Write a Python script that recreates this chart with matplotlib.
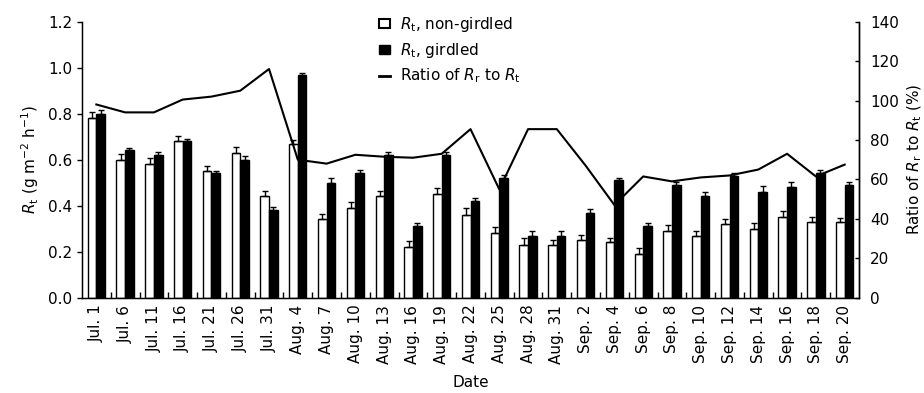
import matplotlib
matplotlib.use("Agg")
import matplotlib.pyplot as plt
import numpy as np
from matplotlib.lines import Line2D
from matplotlib.patches import Patch

plt.rcParams['font.family'] = ['DejaVu Sans']
plt.rcParams['mathtext.fontset'] = 'dejavusans'

dates = ["Jul. 1", "Jul. 6", "Jul. 11", "Jul. 16", "Jul. 21", "Jul. 26", "Jul. 31",
         "Aug. 4", "Aug. 7", "Aug. 10", "Aug. 13", "Aug. 16", "Aug. 19", "Aug. 22",
         "Aug. 25", "Aug. 28", "Aug. 31",
         "Sep. 2", "Sep. 4", "Sep. 6", "Sep. 8", "Sep. 10", "Sep. 12", "Sep. 14",
         "Sep. 16", "Sep. 18", "Sep. 20"]

rt_non_girdled = [0.78, 0.60, 0.58, 0.68, 0.55, 0.63, 0.44,
                  0.67, 0.34, 0.39, 0.44, 0.22, 0.45, 0.36, 0.28, 0.23, 0.23,
                  0.25, 0.24, 0.19, 0.29, 0.27, 0.32, 0.30, 0.35, 0.33, 0.33]
err_non_girdled = [0.026, 0.026, 0.026, 0.025, 0.022, 0.026, 0.025,
                   0.017, 0.022, 0.025, 0.026, 0.026, 0.028, 0.030, 0.028, 0.029, 0.020,
                   0.022, 0.019, 0.026, 0.025, 0.022, 0.022, 0.026, 0.029, 0.023, 0.016]

rt_girdled = [0.80, 0.64, 0.62, 0.68, 0.54, 0.60, 0.38,
              0.97, 0.50, 0.54, 0.62, 0.31, 0.62, 0.42, 0.52, 0.27, 0.27,
              0.37, 0.51, 0.31, 0.49, 0.44, 0.53, 0.46, 0.48, 0.54, 0.49]
err_girdled = [0.014, 0.012, 0.014, 0.012, 0.012, 0.016, 0.014,
               0.005, 0.019, 0.014, 0.012, 0.014, 0.012, 0.012, 0.012, 0.020, 0.022,
               0.014, 0.010, 0.014, 0.012, 0.019, 0.014, 0.025, 0.022, 0.014, 0.013]

ratio_pct = [98, 94, 94, 100.5, 102, 105, 116,
             70, 68, 72.5, 71.5, 71, 73, 85.5, 55, 85.5, 85.5,
             67, 47, 61.5, 59, 61, 62, 65, 73, 61.5, 67.5]

x = np.arange(len(dates))
w = 0.3
FS = 11

fig = plt.figure(figsize=(9.24, 3.93), dpi=100)
ax = fig.add_axes([0.0887, 0.2425, 0.8410, 0.7023])

ax.bar(x - w / 2, rt_non_girdled, width=w, color='white', edgecolor='black', linewidth=1.0, zorder=2)
ax.bar(x + w / 2, rt_girdled, width=w, color='black', edgecolor='black', linewidth=1.0, zorder=2)
zeros = np.zeros(len(x))
ax.errorbar(x - w / 2, rt_non_girdled, yerr=[zeros, err_non_girdled], fmt='none',
            ecolor='black', elinewidth=1.0, capsize=2.5, capthick=1.0, zorder=3)
ax.errorbar(x + w / 2, rt_girdled, yerr=[zeros, err_girdled], fmt='none',
            ecolor='black', elinewidth=1.0, capsize=2.5, capthick=1.0, zorder=3)

ax.set_xlim(-0.5, len(x) - 0.5)
ax.set_ylim(0, 1.2)
yt = np.arange(0, 1.21, 0.2)
ax.set_yticks(yt)
ax.set_yticklabels([f"{v:.1f}" for v in yt])
ax.set_xticks(x)
ax.set_xticklabels(dates, rotation=90, fontsize=FS)
ax.set_xticks(np.arange(0.5, len(x) - 1, 1.0), minor=True)
ax.tick_params(axis='x', which='major', length=0, pad=5)
ax.tick_params(axis='x', which='minor', direction='in', length=4, width=1)
ax.tick_params(axis='y', direction='out', length=3.6, width=1, pad=3.5, labelsize=FS)
ax.spines['top'].set_visible(False)
for s in ['left', 'bottom', 'right']:
    ax.spines[s].set_linewidth(1.0)
ax.set_xlabel("Date", fontsize=FS, labelpad=8)
ax.set_ylabel(r"$R_\mathrm{t}$ (g m$^{-2}$ h$^{-1}$)", fontsize=FS, labelpad=5)

ax2 = ax.twinx()
ax2.plot(x, ratio_pct, color='black', linewidth=1.5, zorder=4)
ax2.set_ylim(0, 140)
ax2.set_yticks(np.arange(0, 141, 20))
ax2.tick_params(axis='y', direction='in', length=3.2, width=1, labelsize=FS, pad=8)
ax2.spines['top'].set_visible(False)
ax2.spines['right'].set_linewidth(1.0)
ax2.set_ylabel(r"Ratio of $R_\mathrm{r}$ to $R_\mathrm{t}$ (%)", fontsize=FS, labelpad=5)

handles = [
    Patch(facecolor='white', edgecolor='black', linewidth=1.5),
    Patch(facecolor='black', edgecolor='black', linewidth=1.0),
    Line2D([0], [0], color='black', linewidth=2.0),
]
labels = [r"$R_\mathrm{t}$, non-girdled", r"$R_\mathrm{t}$, girdled",
          r"Ratio of $R_\mathrm{r}$ to $R_\mathrm{t}$"]
fig.legend(handles, labels, loc='upper left', bbox_to_anchor=(0.410, 0.962),
           frameon=False, fontsize=FS, handlelength=0.7, handleheight=0.6,
           handletextpad=0.7, labelspacing=0.45, borderaxespad=0, borderpad=0)

fig.savefig("out.png", dpi=100)
